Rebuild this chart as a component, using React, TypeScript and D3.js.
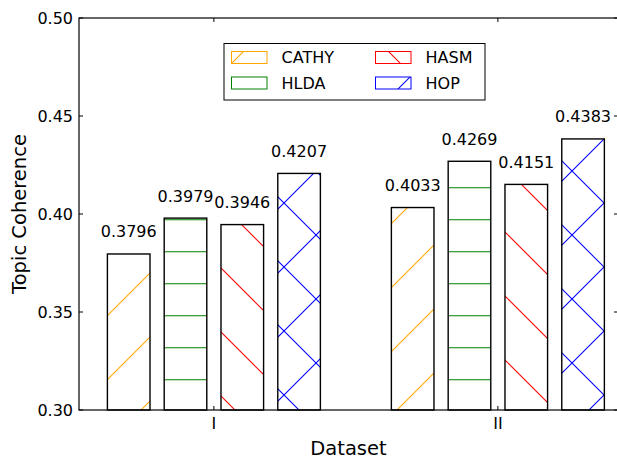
import { useEffect, useRef } from 'react';
import * as d3 from 'd3';

const datasets = ['I', 'II'];
const methods = ['CATHY', 'HLDA', 'HASM', 'HOP'];
const cathy = [0.3796, 0.4033];
const hlda = [0.3979, 0.4269];
const hasm = [0.3946, 0.4151];
const hop = [0.4207, 0.4383];
const yTicks = [0.3, 0.35, 0.4, 0.45, 0.5];

const seriesValues = [cathy, hlda, hasm, hop];
const hatchColors = ['#ffa500', '#008000', '#ff0000', '#0000ff'];
const hatchKinds = ['fwd', 'horiz', 'back', 'cross'];

export default function App() {
  const svgRef = useRef(null);

  useEffect(() => {
    const width = 617;
    const height = 461;
    const margin = { top: 18, right: -1, bottom: 51, left: 79 };
    const svg = d3.select(svgRef.current);
    svg.attr('width', width).attr('height', height);
    svg.selectAll('*').remove();

    const font = "'DejaVu Sans', sans-serif";
    const x = d3
      .scaleLinear()
      .domain([-0.475, 1.423])
      .range([margin.left, width - margin.right]);
    const y = d3
      .scaleLinear()
      .domain([0.3, 0.5])
      .range([height - margin.bottom, margin.top]);
    const barW = 0.15;
    const step = 0.2;

    // hatch lines as thin filled bands, in page space like matplotlib
    const band = 0.75; // half thickness along the vertical
    const fwdBands = () => {
      const p = d3.path();
      for (let c = 39 - 64 * 2; c < width + height + 64; c += 64) {
        p.moveTo(-5, c + 5 - band);
        p.lineTo(c + 5, -5 - band);
        p.lineTo(c + 5, -5 + band);
        p.lineTo(-5, c + 5 + band);
        p.closePath();
      }
      return p.toString();
    };
    const backBands = () => {
      const p = d3.path();
      for (let c = 47 - 64 * 12; c < height + 64; c += 64) {
        p.moveTo(-5, c - 5 - band);
        p.lineTo(width + 5, c + width + 5 - band);
        p.lineTo(width + 5, c + width + 5 + band);
        p.lineTo(-5, c - 5 + band);
        p.closePath();
      }
      return p.toString();
    };
    const horizBands = () => {
      const p = d3.path();
      for (let yy = 27.7; yy < height; yy += 32) {
        p.rect(0, yy - 0.5, width, 1);
      }
      return p.toString();
    };
    const hatchSets = {
      fwd: [fwdBands()],
      back: [backBands()],
      horiz: [horizBands()],
      cross: [fwdBands(), backBands()],
    };

    const defs = svg.append('defs');
    let clipId = 0;
    const hatchedRect = (parent, rx, ry, rw, rh, k, edge, edgeW) => {
      const id = `clip-${clipId++}`;
      defs
        .append('clipPath')
        .attr('id', id)
        .append('rect')
        .attr('x', rx)
        .attr('y', ry)
        .attr('width', rw)
        .attr('height', rh);
      parent
        .append('rect')
        .attr('x', rx)
        .attr('y', ry)
        .attr('width', rw)
        .attr('height', rh)
        .attr('fill', 'white');
      const hg = parent.append('g').attr('clip-path', `url(#${id})`);
      hatchSets[hatchKinds[k]].forEach((d) => {
        hg.append('path').attr('d', d).attr('stroke', 'none').style('fill', hatchColors[k]);
      });
      parent
        .append('rect')
        .attr('x', rx)
        .attr('y', ry)
        .attr('width', rw)
        .attr('height', rh)
        .attr('fill', 'none')
        .attr('stroke', edge)
        .attr('stroke-width', edgeW);
    };

    // bars
    seriesValues.forEach((vals, k) => {
      const g = svg.append('g');
      vals.forEach((d, i) => {
        hatchedRect(
          g,
          x(i + (k - 1.5) * step - barW / 2),
          y(d),
          x(barW) - x(0),
          y(0.3) - y(d),
          k,
          'black',
          1.4
        );
      });
      g.selectAll('text')
        .data(vals)
        .join('text')
        .attr('x', (d, i) => x(i + (k - 1.5) * step))
        .attr('y', (d) => y(d) - 16.5)
        .attr('text-anchor', 'middle')
        .attr('font-family', font)
        .attr('font-size', 16)
        .text((d) => d.toFixed(4));
    });

    // frame
    const [x0, x1] = x.range();
    const [y1, y0] = y.range();
    svg
      .append('rect')
      .attr('x', x0)
      .attr('y', y0)
      .attr('width', x1 - x0)
      .attr('height', y1 - y0)
      .attr('fill', 'none')
      .attr('stroke', 'black')
      .attr('stroke-width', 1.2);

    // y ticks (inward, both sides)
    const yt = svg.append('g');
    yTicks.forEach((t) => {
      yt.append('line').attr('x1', x0).attr('x2', x0 + 4).attr('y1', y(t)).attr('y2', y(t)).attr('stroke', 'black');
      yt.append('line').attr('x1', x1 - 4).attr('x2', x1).attr('y1', y(t)).attr('y2', y(t)).attr('stroke', 'black');
      yt.append('text')
        .attr('x', x0 - 6)
        .attr('y', y(t))
        .attr('dy', '0.36em')
        .attr('text-anchor', 'end')
        .attr('font-family', font)
        .attr('font-size', 16)
        .text(t.toFixed(2));
    });

    // x ticks (inward, top and bottom)
    const xt = svg.append('g');
    datasets.forEach((name, i) => {
      xt.append('line').attr('x1', x(i)).attr('x2', x(i)).attr('y1', y1).attr('y2', y1 - 4).attr('stroke', 'black');
      xt.append('line').attr('x1', x(i)).attr('x2', x(i)).attr('y1', y0).attr('y2', y0 + 4).attr('stroke', 'black');
      xt.append('text')
        .attr('x', x(i))
        .attr('y', y1 + 19)
        .attr('text-anchor', 'middle')
        .attr('font-family', font)
        .attr('font-size', 16)
        .text(name);
    });

    svg
      .append('text')
      .attr('x', (x0 + x1) / 2)
      .attr('y', 455)
      .attr('text-anchor', 'middle')
      .attr('font-family', font)
      .attr('font-size', 19.5)
      .text('Dataset');
    svg
      .append('text')
      .attr('transform', `translate(26,${(y0 + y1) / 2}) rotate(-90)`)
      .attr('text-anchor', 'middle')
      .attr('font-family', font)
      .attr('font-size', 19.5)
      .text('Topic Coherence');

    // legend
    const lg = svg.append('g');
    lg.append('rect')
      .attr('x', 224)
      .attr('y', 43.5)
      .attr('width', 261)
      .attr('height', 56.5)
      .attr('fill', 'white')
      .attr('stroke', 'black')
      .attr('stroke-width', 1);
    methods.forEach((m, k) => {
      const col = Math.floor(k / 2);
      const row = k % 2;
      const px = 231.5 + col * 144;
      const py = 51.5 + row * 25.5;
      hatchedRect(lg, px, py, 35.5, 12, k, hatchColors[k], 1);
      lg.append('text')
        .attr('x', px + 50)
        .attr('y', py + 6)
        .attr('dy', '0.36em')
        .attr('font-family', font)
        .attr('font-size', 16)
        .text(m);
    });
  }, []);

  return (
    <div style={{ position: 'absolute', left: 0, top: 0 }}>
      <svg ref={svgRef}></svg>
    </div>
  );
}
